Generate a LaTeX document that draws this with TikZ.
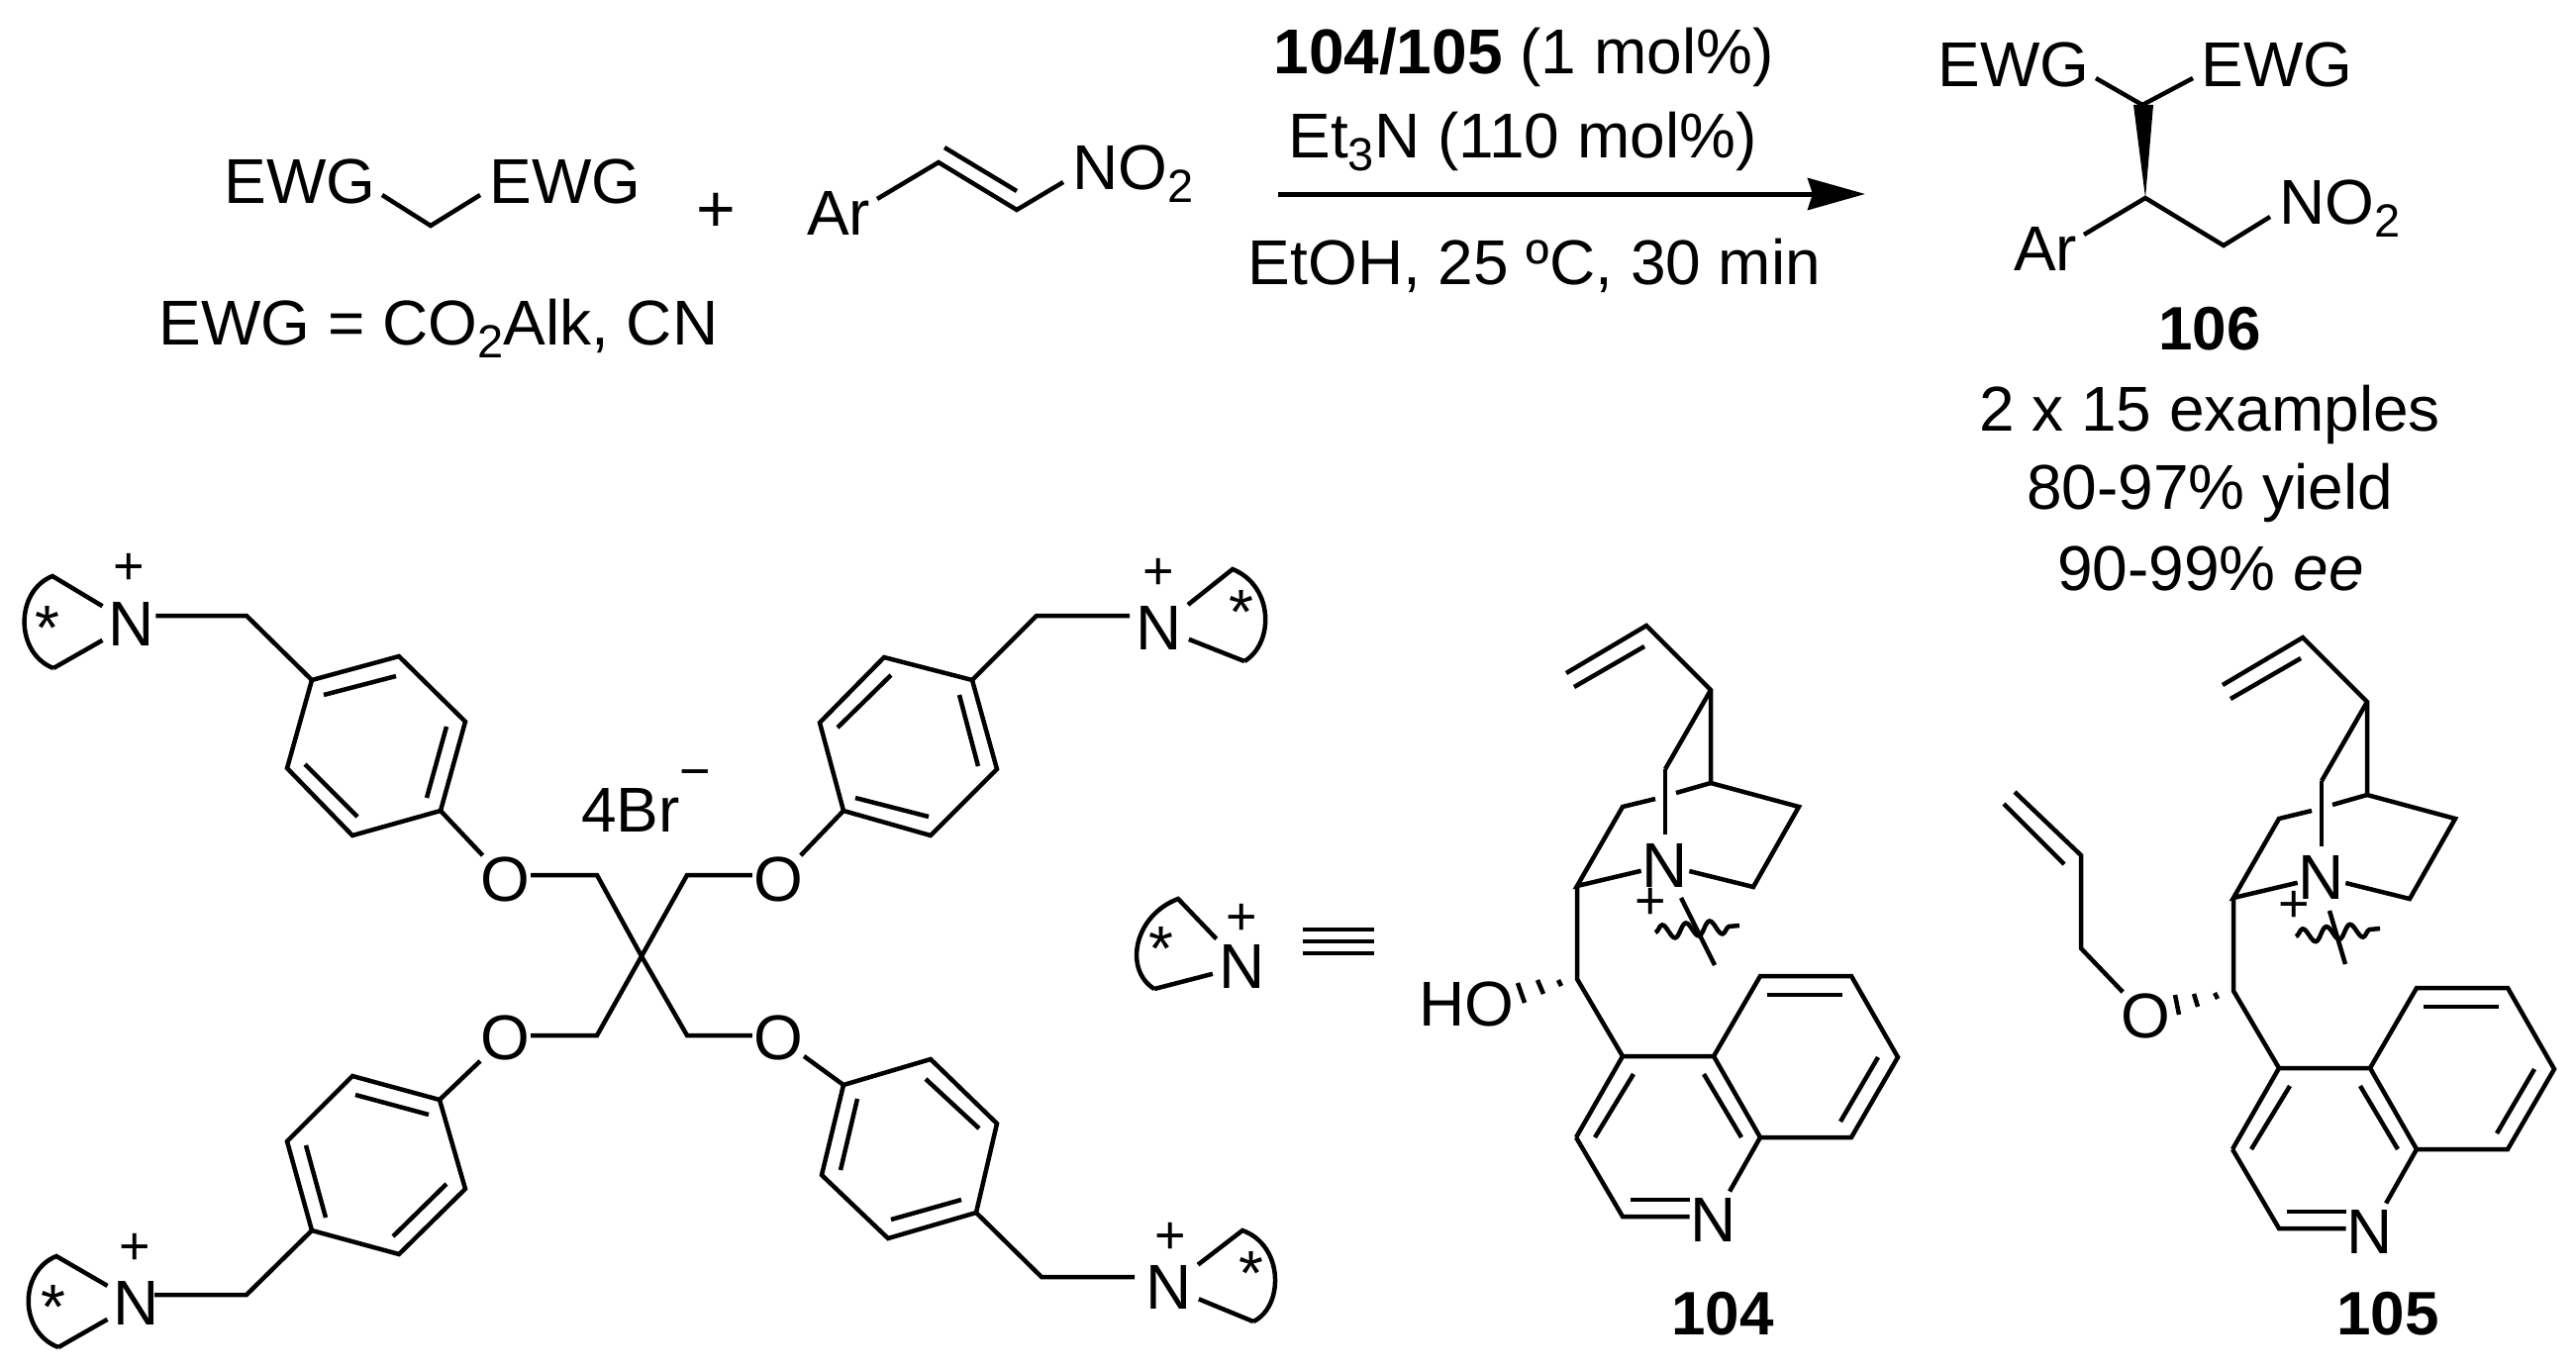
\documentclass[tikz,border=0pt]{standalone}
\usepackage{fontspec}
\setmainfont{Liberation Sans}
\usetikzlibrary{arrows.meta}
\usetikzlibrary{decorations.pathmorphing}
\newcommand{\sbs}[1]{\raisebox{-13pt}{\fontsize{47}{47}\selectfont #1}}
\tikzset{
	bond/.style={line width=4.5pt},
	atom/.style={inner sep=1pt, font=\fontsize{64}{64}\selectfont},
	txt/.style={inner sep=0pt, anchor=base, font=\fontsize{64}{64}\selectfont},
	cpd/.style={inner sep=0pt, anchor=base, font=\fontsize{62}{62}\selectfont\bfseries},
	chg/.style={inner sep=0pt, font=\fontsize{54}{54}\selectfont},
	star/.style={inner sep=0pt, font=\fontsize{64}{64}\selectfont},
	wavy/.style={bond, decorate, decoration={snake, segment length=24pt, amplitude=7pt}},
}
% quinuclidine and quinoline part, drawn at the place of 104
\newcommand{\cinchonacore}{
	\node[atom] (nq) at (1682,874) {N};
	\node[atom] (np) at (1731,1232) {N};
	\coordinate (v1) at (1582,680);
	\coordinate (v2) at (1663,632);
	\coordinate (b1) at (1728,697);
	\coordinate (b2) at (1728,791);
	\coordinate (b3) at (1682,777);
	\coordinate (b4) at (1817,815);
	\coordinate (b5) at (1771,896);
	\coordinate (b6) at (1639,815);
	\coordinate (c8) at (1593,895);
	\coordinate (c9) at (1593,989);
	\coordinate (q4) at (1639,1067);
	\coordinate (q5) at (1731,1067);
	\coordinate (q8) at (1778,1149);
	\coordinate (q3) at (1592,1149);
	\coordinate (q2) at (1639,1229);
	\coordinate (d1) at (1647,1212);
	\draw[bond] (v1) -- (v2) -- (b1) -- (b2) -- (b4) -- (b5) -- (nq);
	\draw[bond] (1590,694) -- (1661,653);
	\draw[bond] (b1) -- (b3);
	\draw[bond, shorten >=8pt] (b3) -- (nq);
	\draw[bond] (b2) -- (1693,801);
	\draw[bond] (1672,807) -- (b6) -- (c8) -- (nq);
	\draw[bond] (c8) -- (c9) -- (q4);
	\draw[bond] (q3) -- (q4) -- (q5) -- (1778,986) -- (1870,986) -- (1917,1068) -- (1870,1149) -- (q8) -- (q5);
	\draw[bond] (q3) -- (q2) -- (np.west |- q2);
	\draw[bond] (d1) -- (np.west |- d1);
	\draw[bond, shorten >=6pt] (q8) -- (np);
	\draw[bond] (1785,1005) -- (1861,1005);
	\draw[bond] (1897,1068) -- (1859,1133);
	\draw[bond] (1721,1085) -- (1759,1149);
	\draw[bond] (1650,1085) -- (1611,1149);
}
\begin{document}
\begin{tikzpicture}[x=1pt, y=-1pt]
	\useasboundingbox (0,0) rectangle (2602,1386);
	% reaction, top row
	\node[txt] (ewga) at (303,205) {EWG};
	\node[txt] (ewgb) at (571,205) {EWG};
	\node[txt] at (443,348) (ewgdef) {EWG = CO\sbs{2}Alk, CN};
	\node[chg, font=\fontsize{68}{68}\selectfont] (plus) at (723,215) {+};
	\node[txt] (ara) at (847,237) {Ar};
	\node[txt, anchor=base west] (noa) at (1083,191) {NO\sbs{2}};
	\coordinate (m1) at (386,197);
	\coordinate (m2) at (435,228);
	\coordinate (m3) at (485,197);
	\draw[bond] (m1) -- (m2) -- (m3);
	\coordinate (e1) at (886,201);
	\coordinate (e2) at (948,164);
	\coordinate (e3) at (1027,212);
	\coordinate (e4) at (1074,184);
	\draw[bond] (e1) -- (e2) -- (e3) -- (e4);
	\draw[bond] (954,149) -- (1027,193);
	% arrow with conditions
	\node[txt] (cat) at (1539,75) {\textbf{104/105} (1 mol\%)};
	\node[txt] (base) at (1538,160) {Et\sbs{3}N (110 mol\%)};
	\node[txt] (solv) at (1550,287) {EtOH, 25 ºC, 30 min};
	\coordinate (ar1) at (1291,196);
	\coordinate (ar2) at (1884,196);
	\draw[line width=5pt, -{Stealth[length=58pt, width=32pt, inset=5pt]}] (ar1) -- (ar2);
	% product 106
	\node[txt] (ewgc) at (2034,88) {EWG};
	\node[txt] (ewgd) at (2300,88) {EWG};
	\node[txt] (arb) at (2066,273) {Ar};
	\node[txt, anchor=base west] (nob) at (2302,226) {NO\sbs{2}};
	\node[cpd] (cpd106) at (2232,353) {106};
	\node[txt] (exa) at (2232,435) {2 x 15 examples};
	\node[txt] (yld) at (2232,514) {80-97\% yield};
	\node[txt] (eeval) at (2233,596) {90-99\% \textit{ee}};
	\coordinate (p1) at (2117,79);
	\coordinate (p2) at (2164,106);
	\coordinate (p3) at (2215,79);
	\coordinate (p4) at (2105,237);
	\coordinate (p5) at (2167,200);
	\coordinate (p6) at (2246,248);
	\coordinate (p7) at (2293,219);
	\draw[bond] (p1) -- (p2) -- (p3);
	\draw[bond] (p4) -- (p5) -- (p6) -- (p7);
	\fill (2155,106) -- (2175,106) -- (p5) -- cycle;
	% tetra ammonium salt
	\coordinate (cc) at (648,966);
	\node[atom] (oa) at (510,888) {O};
	\node[atom] (ob) at (510,1048) {O};
	\node[atom] (oc) at (786,888) {O};
	\node[atom] (od) at (786,1048) {O};
	\node[txt] (br) at (637,840) {4Br};
	\node[chg] (brm) at (702,788) {\textminus};
	\coordinate (ga) at (603,884);
	\coordinate (gb) at (603,1046);
	\coordinate (gc) at (694,884);
	\coordinate (gd) at (694,1046);
	\draw[bond] (oa.east |- ga) -- (ga) -- (cc) -- (gd) -- (od.west |- gd);
	\draw[bond] (ob.east |- gb) -- (gb) -- (cc) -- (gc) -- (oc.west |- gc);
	% upper left arm
	\node[atom] (na) at (133,630) {N};
	\node[chg] (pa) at (130,575) {+};
	\node[star] (sa) at (48,634) {*};
	\coordinate (ra) at (53,582);
	\coordinate (rb) at (54,675);
	\coordinate (ha) at (249,622);
	\draw[bond] (315,687) coordinate (aa) -- (403,663) -- (470,729) -- (445,819) coordinate (ab) -- (356,844) -- (290,776) -- cycle;
	\draw[bond] (327,702) -- (400,683);
	\draw[bond] (451,734) -- (431,806);
	\draw[bond] (361,825) -- (308,772);
	\draw[bond] (na.east |- ha) -- (ha) -- (aa);
	\draw[bond] (ab) -- (oa);
	\draw[bond, shorten <=6pt] (na) -- (ra) .. controls (15,597) and (15,660) .. (rb);
	\draw[bond, shorten >=6pt] (rb) -- (na);
	% lower left arm
	\node[atom] (nb) at (138,1316) {N};
	\node[chg] (pb) at (136,1262) {+};
	\node[star] (sb) at (54,1320) {*};
	\coordinate (rc) at (57,1269);
	\coordinate (rd) at (59,1361);
	\coordinate (hb) at (249,1308);
	\coordinate (hbe) at (156,1308);
	\draw[bond] (444,1111) coordinate (ba) -- (356,1087) -- (290,1153) -- (315,1243) coordinate (bb) -- (403,1267) -- (470,1201) -- cycle;
	\draw[bond] (433,1126) -- (359,1106);
	\draw[bond] (309,1157) -- (329,1230);
	\draw[bond] (397,1249) -- (451,1196);
	\draw[bond] (hbe) -- (hb) -- (bb);
	\draw[bond] (ba) -- (ob);
	\draw[bond, shorten <=6pt] (nb) -- (rc) .. controls (19,1284) and (19,1346) .. (rd);
	\draw[bond, shorten >=6pt] (rd) -- (nb);
	% upper right arm
	\node[atom] (nc) at (1171,634) {N};
	\node[chg] (pc) at (1170,580) {+};
	\node[star] (sc) at (1254,618) {*};
	\coordinate (re) at (1245,575);
	\coordinate (rf) at (1257,668);
	\coordinate (hc) at (1047,622);
	\coordinate (hce) at (1141,622);
	\draw[bond] (852,819) coordinate (ca) -- (940,844) -- (1007,777) -- (982,687) coordinate (cb) -- (893,664) -- (828,730) -- cycle;
	\draw[bond] (864,806) -- (938,825);
	\draw[bond] (988,774) -- (969,702);
	\draw[bond] (900,682) -- (846,735);
	\draw[bond] (hce) -- (hc) -- (cb);
	\draw[bond] (ca) -- (oc);
	\draw[bond, shorten <=6pt] (nc) -- (re) .. controls (1287,592) and (1287,650) .. (rf);
	\draw[bond, shorten >=6pt] (rf) -- (nc);
	% lower right arm
	\node[atom] (nd) at (1181,1300) {N};
	\node[chg] (pd) at (1182,1251) {+};
	\node[star] (sd) at (1264,1286) {*};
	\coordinate (rg) at (1255,1243);
	\coordinate (rh) at (1266,1335);
	\coordinate (hd) at (1052,1290);
	\coordinate (hde) at (1146,1290);
	\draw[bond] (852,1096) coordinate (da) -- (940,1070) -- (1007,1135) -- (986,1225) coordinate (db) -- (897,1251) -- (830,1187) -- cycle;
	\draw[bond] (935,1090) -- (989,1140);
	\draw[bond] (971,1212) -- (900,1232);
	\draw[bond] (849,1182) -- (866,1110);
	\draw[bond] (hde) -- (hd) -- (db);
	\draw[bond] (da) -- (od);
	\draw[bond, shorten <=6pt] (nd) -- (rg) .. controls (1297,1258) and (1297,1320) .. (rh);
	\draw[bond, shorten >=6pt] (rh) -- (nd);
	% key for the ring
	\node[atom] (ne) at (1255,976) {N};
	\node[chg] (pe) at (1254,929) {+};
	\node[star] (se) at (1173,958) {*};
	\coordinate (ri) at (1190,908);
	\coordinate (rj) at (1166,999);
	\draw[bond, shorten <=6pt] (ne) -- (ri) .. controls (1145,925) and (1135,980) .. (rj);
	\draw[bond, shorten >=6pt] (rj) -- (ne);
	\foreach \eqy in {939,951,963}
		\draw[line width=4pt] (1316,\eqy) -- (1388,\eqy);
	% catalyst 104
	\begin{scope}[name prefix=cat-]
		\cinchonacore
	\end{scope}
	\node[atom] (hoa) at (1481,1014) {HO};
	\node[chg] (pf) at (1667,913) {+};
	\node[cpd] (cpd104) at (1740,1348) {104};
	\coordinate (wa) at (1672,942);
	\coordinate (wb) at (1757,935);
	\coordinate (ta) at (1698,907);
	\coordinate (tb) at (1732,975);
	\draw[wavy] (wa) -- (wb);
	\draw[bond] (ta) -- (tb);
	\draw[bond] (1533,993) -- (1540,1013);
	\draw[bond] (1553,990) -- (1559,1004);
	\draw[bond] (1574,990) -- (1577,996);
	% catalyst 105
	\begin{scope}[shift={(663,12)}, name prefix=alc-]
		\cinchonacore
	\end{scope}
	\node[atom] (oe) at (2167,1026) {O};
	\node[chg] (pg) at (2317,916) {+};
	\node[cpd] (cpd105) at (2412,1348) {105};
	\coordinate (wc) at (2319,946);
	\coordinate (wd) at (2404,938);
	\coordinate (tc) at (2353,920);
	\coordinate (td) at (2369,974);
	\draw[wavy] (wc) -- (wd);
	\draw[bond] (tc) -- (td);
	\coordinate (la) at (2035,800);
	\coordinate (lb) at (2102,864);
	\coordinate (lc) at (2102,958);
	\draw[bond] (la) -- (lb) -- (lc) -- (oe);
	\draw[bond] (2024,812) -- (2085,873);
	\draw[bond] (2197,1005) -- (2201,1025);
	\draw[bond] (2216,1004) -- (2220,1017);
	\draw[bond] (2237,1003) -- (2240,1009);
\end{tikzpicture}
\end{document}
